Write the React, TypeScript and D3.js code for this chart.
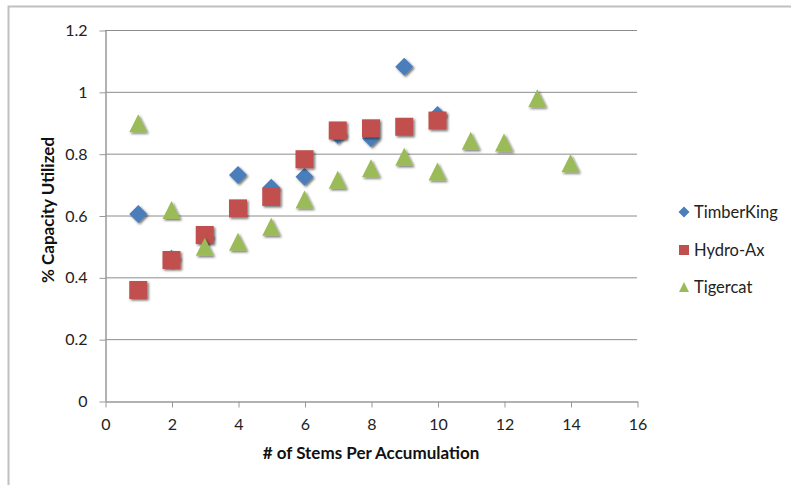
import React, { useRef, useEffect } from 'react'
import { select, scaleLinear, axisLeft, axisBottom, range } from 'd3'

const xTicks = [0, 2, 4, 6, 8, 10, 12, 14, 16]
const yTicks = [0, 0.2, 0.4, 0.6, 0.8, 1, 1.2]

const timberX = [1, 2, 3, 4, 5, 6, 7, 8, 9, 10]
const timberY = [0.605, 0.46, 0.53, 0.731, 0.69, 0.725, 0.86, 0.85, 1.081, 0.925]

const hydroX = [1, 2, 3, 4, 5, 6, 7, 8, 9, 10]
const hydroY = [0.359, 0.456, 0.537, 0.623, 0.66, 0.782, 0.875, 0.882, 0.887, 0.907]

const tigerX = [1, 2, 3, 4, 5, 6, 7, 8, 9, 10, 11, 12, 13, 14]
const tigerY = [0.898, 0.618, 0.499, 0.515, 0.564, 0.652, 0.716, 0.753, 0.79, 0.742, 0.842, 0.836, 0.979, 0.769]

const seriesNames = ['TimberKing', 'Hydro-Ax', 'Tigercat']
const seriesColors = ['#4a7ebb', '#c0504d', '#9bbb59']

const FONT = 'Lato, "Open Sans", sans-serif'

// marker shapes, centred on 0,0
const shapePath = (kind: number, s: number) => {
  const h = s / 2
  if (kind === 0) return `M0,${-h}L${h},0L0,${h}L${-h},0Z`
  if (kind === 1) return `M${-h},${-h}H${h}V${h}H${-h}Z`
  return `M0,${-h}L${h},${h}L${-h},${h}Z`
}

const App = () => {
  const ref = useRef<SVGSVGElement>(null)

  useEffect(() => {
    const svg = select(ref.current)
    svg.selectAll('*').remove()

    const x = scaleLinear().domain([0, 16]).range([105, 637])
    const y = scaleLinear().domain([0, 1.2]).range([401, 30])

    const defs = svg.append('defs')
    const f = defs.append('filter').attr('id', 'shadow').attr('x', '-50%').attr('y', '-50%').attr('width', '200%').attr('height', '200%')
    f.append('feDropShadow').attr('dx', 1.5).attr('dy', 1.5).attr('stdDeviation', 0.8)
      .attr('flood-color', '#000').attr('flood-opacity', 0.55)

    // outer frame
    svg.append('path').attr('d', 'M8.5,485V6.5H791')
      .attr('fill', 'none').attr('stroke', '#c0c0c0').attr('stroke-width', 2)

    // gridlines
    svg.append('g').selectAll('line').data(yTicks.slice(1)).join('line')
      .attr('x1', x(0)).attr('x2', x(16))
      .attr('y1', d => y(d) + 0.5).attr('y2', d => y(d) + 0.5)
      .attr('stroke', '#8c8c8c').attr('stroke-width', 1)

    // y axis
    const gy = svg.append('g').attr('transform', `translate(${x(0) + 0.5},0.5)`)
      .call(axisLeft(y).tickValues(yTicks).tickSize(6).tickSizeOuter(0).tickPadding(12).tickFormat(d => String(d)))
    gy.select('.domain').attr('stroke', '#999').attr('stroke-width', 1.5)
    gy.selectAll('.tick line').attr('stroke', '#999')
    gy.selectAll('text').attr('font-family', FONT).attr('font-size', 16).attr('fill', '#222')

    // x axis
    const gx = svg.append('g').attr('transform', `translate(0.5,${y(0) + 0.5})`)
      .call(axisBottom(x).tickValues(xTicks).tickSize(6).tickSizeOuter(0).tickPadding(11))
    gx.select('.domain').attr('stroke', '#999').attr('stroke-width', 1.5)
    gx.selectAll('.tick line').attr('stroke', '#999')
    gx.selectAll('text').attr('font-family', FONT).attr('font-size', 16).attr('fill', '#222')

    // axis titles
    svg.append('text').attr('x', 371).attr('y', 459)
      .attr('text-anchor', 'middle').attr('font-family', FONT).attr('font-weight', 'bold')
      .attr('font-size', 17).attr('fill', '#111').text('# of Stems Per Accumulation')
    svg.append('text').attr('transform', `translate(54,210) rotate(-90)`)
      .attr('text-anchor', 'middle').attr('font-family', FONT).attr('font-weight', 'bold')
      .attr('font-size', 17).attr('fill', '#111').text('% Capacity Utilized')

    // points
    const series = [
      range(timberX.length).map(i => [timberX[i], timberY[i]]),
      range(hydroX.length).map(i => [hydroX[i], hydroY[i]]),
      range(tigerX.length).map(i => [tigerX[i], tigerY[i]]),
    ]
    series.forEach((pts, k) => {
      svg.append('g').attr('filter', 'url(#shadow)')
        .selectAll('path').data(pts).join('path')
        .attr('transform', d => `translate(${x(d[0])},${y(d[1])})`)
        .attr('d', shapePath(k, 18))
        .attr('fill', seriesColors[k])
    })

    // legend
    const legY = [212, 250, 287]
    const leg = svg.append('g')
    seriesNames.forEach((name, k) => {
      leg.append('path').attr('transform', `translate(684,${legY[k]})`)
        .attr('d', shapePath(k, k === 0 ? 11 : 10)).attr('fill', seriesColors[k])
      leg.append('text').attr('x', 694).attr('y', legY[k]).attr('dy', '0.35em')
        .attr('font-family', FONT).attr('font-size', 16.5).attr('fill', '#222').text(name)
    })
  }, [])

  return (
    <div style={{ position: 'fixed', left: 0, top: 0 }}>
      <svg ref={ref} width={791} height={485} style={{ display: 'block', background: '#fff' }} />
    </div>
  )
}

export default App
